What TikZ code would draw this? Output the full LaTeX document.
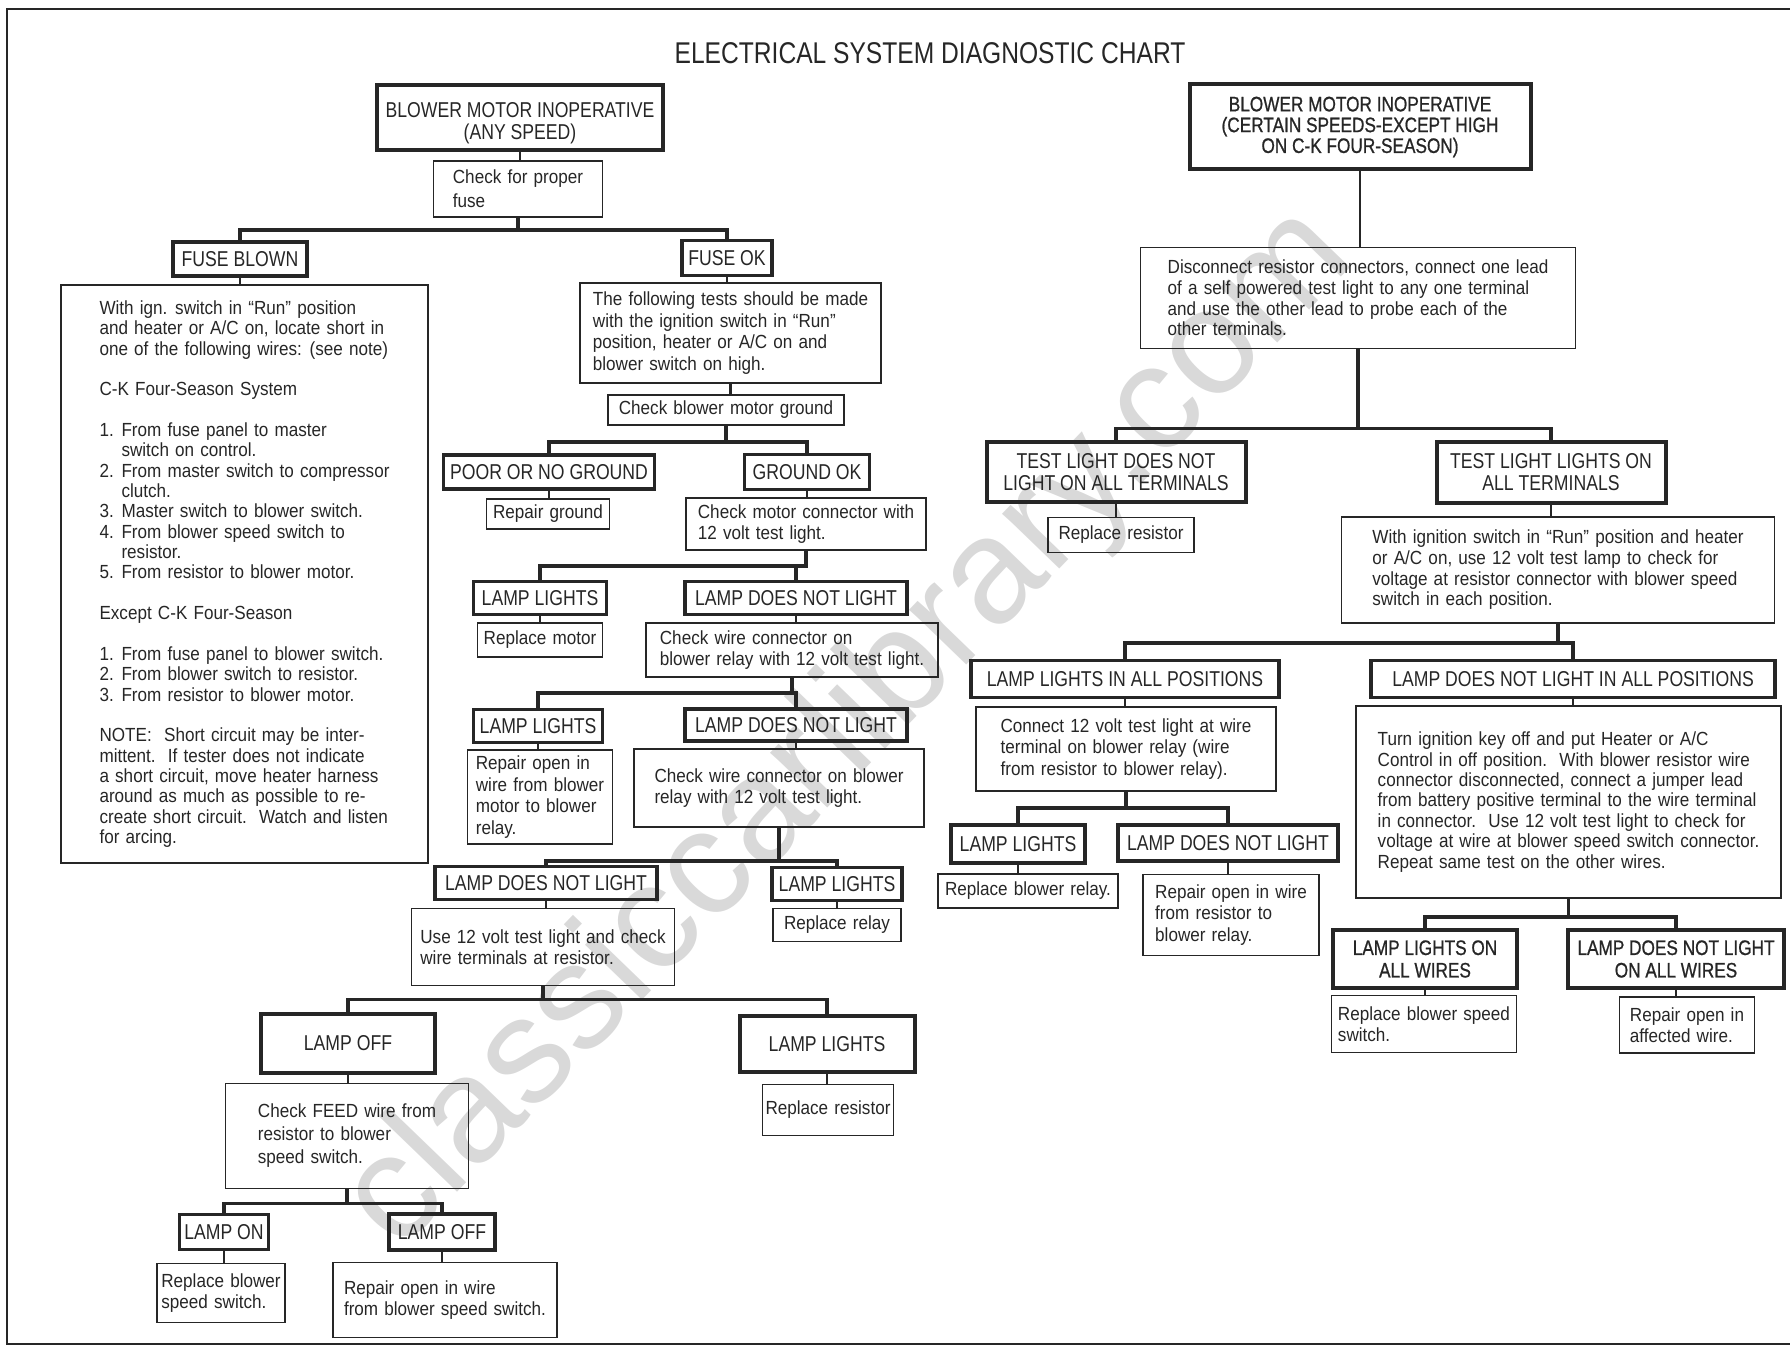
\documentclass[tikz,border=0pt]{standalone}
\usepackage{fontspec}
\setmainfont[FakeStretch=0.9,WordSpace=1.3]{Liberation Sans}
\newfontfamily\capsfont[FakeStretch=0.82]{Liberation Sans}
\newfontfamily\boldcaps[FakeStretch=0.82,FakeBold=0.8]{Liberation Sans}
\newfontfamily\wmfont{Liberation Sans}
\usetikzlibrary{positioning,calc}
\definecolor{ink}{HTML}{262626}
\definecolor{wmark}{HTML}{D9D9D9}
\tikzset{
  sz/.style 2 args={minimum width=#1pt, minimum height=#2pt},
  tabbox/.style={draw=ink, line width=3.4pt, inner sep=0pt, align=center, text=ink,
    font=\capsfont\fontsize{21.5}{22.5}\selectfont},
  hdrbox/.style={tabbox, line width=4pt},
  notebox/.style={draw=ink, line width=1.6pt, inner sep=0pt, align=left, text=ink,
    font=\fontsize{19}{21.5}\selectfont},
  bus/.style={draw=ink, line width=3.5pt},
  wire/.style={draw=ink, line width=2.8pt}
}

\begin{document}
\begin{tikzpicture}[x=1pt,y=-1pt]
  \useasboundingbox (0,0) rectangle (1790,1348);
  \node[font=\wmfont\fontsize{150}{150}\selectfont, text=wmark, rotate=46] (wm) at (850,730) {classiccarlibrary.com};
  \draw[ink, line width=1.5pt] (1790,9) -- (7,9) -- (7,1344) -- (1790,1344);
  \node[font=\capsfont\fontsize{30}{30}\selectfont, text=ink] (title) at (930,53) {ELECTRICAL SYSTEM DIAGNOSTIC CHART};

  % any speed
  \node[hdrbox, sz={286}{65}] (hdrA) at (520,118) {\rule{0pt}{2.2ex}BLOWER MOTOR INOPERATIVE\\(ANY SPEED)};
  \node[notebox, sz={169}{56}, font=\fontsize{19}{24}\selectfont] (chkfuse) at (518,189) {Check for proper\\fuse};
  \node[tabbox, sz={134}{34}] (fuseblown) at (240,259) {FUSE BLOWN};
  \node[tabbox, sz={90}{35}] (fuseok) at (727,258) {FUSE OK};
  \node[notebox, sz={367}{578}, font=\fontsize{19}{20.35}\selectfont] (shortbox) at (244.5,574)
    {With ign. switch in “Run” position\\and heater or A/C on, locate short in\\one of the following wires: (see note)\\[20.35pt]
     C-K Four-Season System\\[20.35pt]
     1. From fuse panel to master\\\phantom{1. }switch on control.\\2. From master switch to compressor\\\phantom{2. }clutch.\\
     3. Master switch to blower switch.\\4. From blower speed switch to\\\phantom{4. }resistor.\\5. From resistor to blower motor.\\[20.35pt]
     Except C-K Four-Season\\[20.35pt]
     1. From fuse panel to blower switch.\\2. From blower switch to resistor.\\3. From resistor to blower motor.\\[20.35pt]
     NOTE:\ \ Short circuit may be inter-\\mittent.\ \ If tester does not indicate\\a short circuit, move heater harness\\around as much as possible to re-\\create short circuit.\ \ Watch and listen\\for arcing.};
  \node[notebox, sz={301}{100}] (tests) at (730.5,333)
    {The following tests should be made\\with the ignition switch in “Run”\\position, heater or A/C on and\\blower switch on high.};
  \node[notebox, sz={236}{30}] (chkgnd) at (726,410) {Check blower motor ground};
  \node[tabbox, sz={211}{34}] (poorgnd) at (549,472) {POOR OR NO GROUND};
  \node[tabbox, sz={125}{35}] (gndok) at (807,472) {GROUND OK};
  \node[notebox, sz={123}{30}] (repgnd) at (548,514) {Repair ground};
  \node[notebox, sz={240}{52}] (chkmotor) at (806,524) {Check motor connector with\\12 volt test light.};
  \node[tabbox, sz={133}{33}] (litA) at (540,598) {LAMP LIGHTS};
  \node[tabbox, sz={222}{33}] (notA) at (796,598) {LAMP DOES NOT LIGHT};
  \node[notebox, sz={125}{34}] (repmotor) at (540,640) {Replace motor};
  \node[notebox, sz={292}{54}] (chkrelay) at (792,650) {Check wire connector on\\blower relay with 12 volt test light.};
  \node[tabbox, sz={129}{33}] (litB) at (538,726) {LAMP LIGHTS};
  \node[tabbox, sz={222}{32}] (notB) at (796,725) {LAMP DOES NOT LIGHT};
  \node[notebox, sz={145}{94}] (repmotwire) at (540,797) {Repair open in\\wire from blower\\motor to blower\\relay.};
  \node[notebox, sz={290}{78}] (chkrelay2) at (779,788) {Check wire connector on blower\\relay with 12 volt test light.};
  \node[tabbox, sz={222}{33}] (notC) at (546,883) {LAMP DOES NOT LIGHT};
  \node[tabbox, sz={130}{33}] (litC) at (837,884) {LAMP LIGHTS};
  \node[notebox, sz={128}{33}] (reprelay) at (837,925) {Replace relay};
  \node[notebox, sz={263}{77}] (use12) at (543,947) {Use 12 volt test light and check\\wire terminals at resistor.};
  \node[hdrbox, sz={174}{59}] (offD) at (348,1043) {LAMP OFF};
  \node[hdrbox, sz={175}{56}] (litD) at (827,1044) {LAMP LIGHTS};
  \node[notebox, sz={131}{51}] (represA) at (828,1110) {Replace resistor};
  \node[notebox, sz={243}{105}, font=\fontsize{19}{23}\selectfont] (chkfeed) at (347,1136) {Check FEED wire from\\resistor to blower\\speed switch.};
  \node[tabbox, sz={89}{35}] (onE) at (224,1232) {LAMP ON};
  \node[tabbox, sz={106}{36}] (offE) at (442,1232) {LAMP OFF};
  \node[notebox, sz={128}{59}] (repswA) at (221,1293) {Replace blower\\speed switch.};
  \node[notebox, sz={224}{75}] (repfeed) at (445,1300) {Repair open in wire\\from blower speed switch.};

  % certain speeds
  \node[hdrbox, sz={341}{85}, font=\boldcaps\fontsize{21}{20.8}\selectfont] (hdrB) at (1360,127)
    {BLOWER MOTOR INOPERATIVE\\(CERTAIN SPEEDS-EXCEPT HIGH\\ON C-K FOUR-SEASON)};
  \node[notebox, sz={435}{101}, font=\fontsize{19}{20.7}\selectfont] (discon) at (1358,298)
    {Disconnect resistor connectors, connect one lead\\of a self powered test light to any one terminal\\and use the other lead to probe each of the\\other terminals.};
  \node[hdrbox, sz={259}{60}] (tlnot) at (1116,472) {TEST LIGHT DOES NOT\\LIGHT ON ALL TERMINALS};
  \node[hdrbox, sz={229}{61}] (tlon) at (1551,472) {TEST LIGHT LIGHTS ON\\ALL TERMINALS};
  \node[notebox, sz={146}{35}] (represB) at (1121,535) {Replace resistor};
  \node[notebox, sz={433}{106}, font=\fontsize{19}{20.7}\selectfont] (withign) at (1558,570)
    {With ignition switch in “Run” position and heater\\or A/C on, use 12 volt test lamp to check for\\voltage at resistor connector with blower speed\\switch in each position.};
  \node[tabbox, sz={308}{37}] (allpos) at (1125,679) {LAMP LIGHTS IN ALL POSITIONS};
  \node[tabbox, sz={404}{37}] (notallpos) at (1573,679) {LAMP DOES NOT LIGHT IN ALL POSITIONS};
  \node[notebox, sz={300}{84}] (connect) at (1126,749)
    {Connect 12 volt test light at wire\\terminal on blower relay (wire\\from resistor to blower relay).};
  \node[notebox, sz={425}{192}, font=\fontsize{19}{20.4}\selectfont] (turnkey) at (1568.5,802)
    {Turn ignition key off and put Heater or A/C\\Control in off position.\ \ With blower resistor wire\\connector disconnected, connect a jumper lead\\from battery positive terminal to the wire terminal\\in connector.\ \ Use 12 volt test light to check for\\voltage at wire at blower speed switch connector.\\Repeat same test on the other wires.};
  \node[tabbox, sz={134}{38}] (litF) at (1018,844) {LAMP LIGHTS};
  \node[tabbox, sz={220}{36}] (notF) at (1228,843) {LAMP DOES NOT LIGHT};
  \node[notebox, sz={180}{34}] (repblrelay) at (1028,891) {Replace blower relay.};
  \node[notebox, sz={176}{81}] (represwire) at (1231,915) {Repair open in wire\\from resistor to\\blower relay.};
  \node[hdrbox, sz={184}{58}, font=\boldcaps\fontsize{21}{22.5}\selectfont] (litW) at (1425,959) {LAMP LIGHTS ON\\ALL WIRES};
  \node[hdrbox, sz={216}{58}, font=\boldcaps\fontsize{21}{22.5}\selectfont] (notW) at (1676,959) {LAMP DOES NOT LIGHT\\ON ALL WIRES};
  \node[notebox, sz={185}{57}] (repswB) at (1424,1024) {Replace blower speed\\switch.};
  \node[notebox, sz={135}{56}] (repaff) at (1687,1025) {Repair open in\\affected wire.};

  % straight drops
  \foreach \a/\b in {hdrA/chkfuse, fuseblown/shortbox, fuseok/tests, tests/chkgnd, poorgnd/repgnd,
      gndok/chkmotor, litA/repmotor, notA/chkrelay, litB/repmotwire, notB/chkrelay2, notC/use12,
      litC/reprelay, offD/chkfeed, litD/represA, onE/repswA, offE/repfeed, hdrB/discon,
      tlnot/represB, tlon/withign, allpos/connect, notallpos/turnkey, litF/repblrelay,
      notF/represwire, litW/repswB, notW/repaff}
    \draw[wire] (\a.south) -- (\a.south |- \b.north);

  % branch points
  \draw[bus] (chkfuse.south) -- ++(0,12) coordinate (s1) -| (fuseblown.north);
  \draw[bus] (s1) -| (fuseok.north);
  \draw[bus] (chkgnd.south) -- ++(0,16) coordinate (s2) -| (poorgnd.north);
  \draw[bus] (s2) -| (gndok.north);
  \draw[bus] (chkmotor.south) -- ++(0,15) coordinate (s3) -| (litA.north);
  \draw[bus] (s3) -| (notA.north);
  \draw[bus] (chkrelay.south) -- ++(0,15) coordinate (s4) -| (litB.north);
  \draw[bus] (s4) -| (notB.north);
  \draw[bus] (chkrelay2.south) -- ++(0,33) coordinate (s5) -| (notC.north);
  \draw[bus] (s5) -| (litC.north);
  \draw[bus] (use12.south) -- ++(0,13) coordinate (s6) -| (offD.north);
  \draw[bus] (s6) -| (litD.north);
  \draw[bus] (chkfeed.south) -- ++(0,14) coordinate (s7) -| (onE.north);
  \draw[bus] (s7) -| (offE.north);
  \draw[bus] (discon.south) -- ++(0,79) coordinate (s8) -| (tlnot.north);
  \draw[bus] (s8) -| (tlon.north);
  \draw[bus] (withign.south) -- ++(0,19) coordinate (s9) -| (allpos.north);
  \draw[bus] (s9) -| (notallpos.north);
  \draw[bus] (connect.south) -- ++(0,16) coordinate (s10) -| (litF.north);
  \draw[bus] (s10) -| (notF.north);
  \draw[bus] (turnkey.south) -- ++(0,18) coordinate (s11) -| (litW.north);
  \draw[bus] (s11) -| (notW.north);
\end{tikzpicture}
\end{document}
